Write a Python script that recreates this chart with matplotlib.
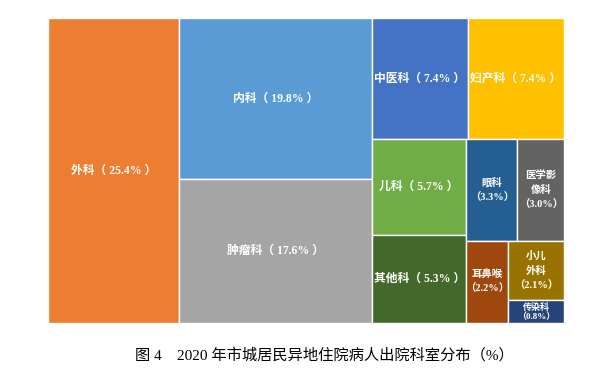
import matplotlib.pyplot as plt

# departments, share of discharges (%)
names = ["外科", "内科", "肿瘤科", "中医科", "妇产科", "儿科", "其他科",
         "眼科", "医学影像科", "耳鼻喉", "小儿外科", "传染科"]
label_names = ["外科", "内科", "肿瘤科", "中医科", "妇产科", "儿科", "其他科",
               "眼科\n", "医学影\n像科\n", "耳鼻喉\n", "小儿\n外科\n", "传染科\n"]
values = [25.4, 19.8, 17.6, 7.4, 7.4, 5.7, 5.3, 3.3, 3.0, 2.2, 2.1, 0.8]
colors = ["#ED7D31", "#5B9BD5", "#A5A5A5", "#4472C4", "#FFC000", "#70AD47",
          "#43682B", "#255E91", "#636363", "#9E480E", "#997300", "#264478"]
# how many items go into each strip of the treemap
strips = [1, 2, 2, 2, 2, 1, 1, 1]

caption = "图 4　2020 年市城居民异地住院病人出院科室分布（%）"


def strip_layout(vals, groups, x, y, w, h):
    # lay out strips along the shorter side of what is left
    rects = []
    i = 0
    for n in groups:
        chunk = vals[i:i + n]
        left = sum(vals[i:])
        s = sum(chunk)
        if w >= h:
            sw = w * s / left
            yy = y
            for v in chunk:
                hh = h * v / s
                rects.append((x, yy, sw, hh))
                yy += hh
            x += sw
            w -= sw
        else:
            sh = h * s / left
            xx = x
            for v in chunk:
                ww = w * v / s
                rects.append((xx, y, ww, sh))
                xx += ww
            y += sh
            h -= sh
        i += n
    return rects


W, H = 516.0, 305.0
fig = plt.figure(figsize=(6.12, 3.76), dpi=100)
ax = fig.add_axes([48 / 612, 53 / 376, W / 612, H / 376])
rects = strip_layout(values, strips, 0, 0, W, H)

font = ["Liberation Serif", "Noto Sans CJK SC"]
for (x, y, w, h), nm, v, c in zip(rects, label_names, values, colors):
    ax.bar(x, h, width=w, bottom=y, align="edge", color=c,
           edgecolor="white", linewidth=1.0)
    if v >= 4:
        txt = nm + "（ " + f"{v}%" + " ）"
        size, ls = 8.5, 1.6
    else:
        txt = nm + "（" + f"{v}%" + "）"
        size, ls = (7.5, 1.6) if v >= 1 else (6.5, 1.1)
    ax.text(x + w / 2, y + h / 2, txt, ha="center", va="center",
            color="white", fontsize=size, fontweight="bold",
            family=font, linespacing=ls)

ax.set_xlim(0, W)
ax.set_ylim(H, 0)
ax.axis("off")

fig.text(0.53, 0.055, caption, ha="center", va="center", fontsize=11,
         family=font)

fig.savefig("out.png", dpi=100)
